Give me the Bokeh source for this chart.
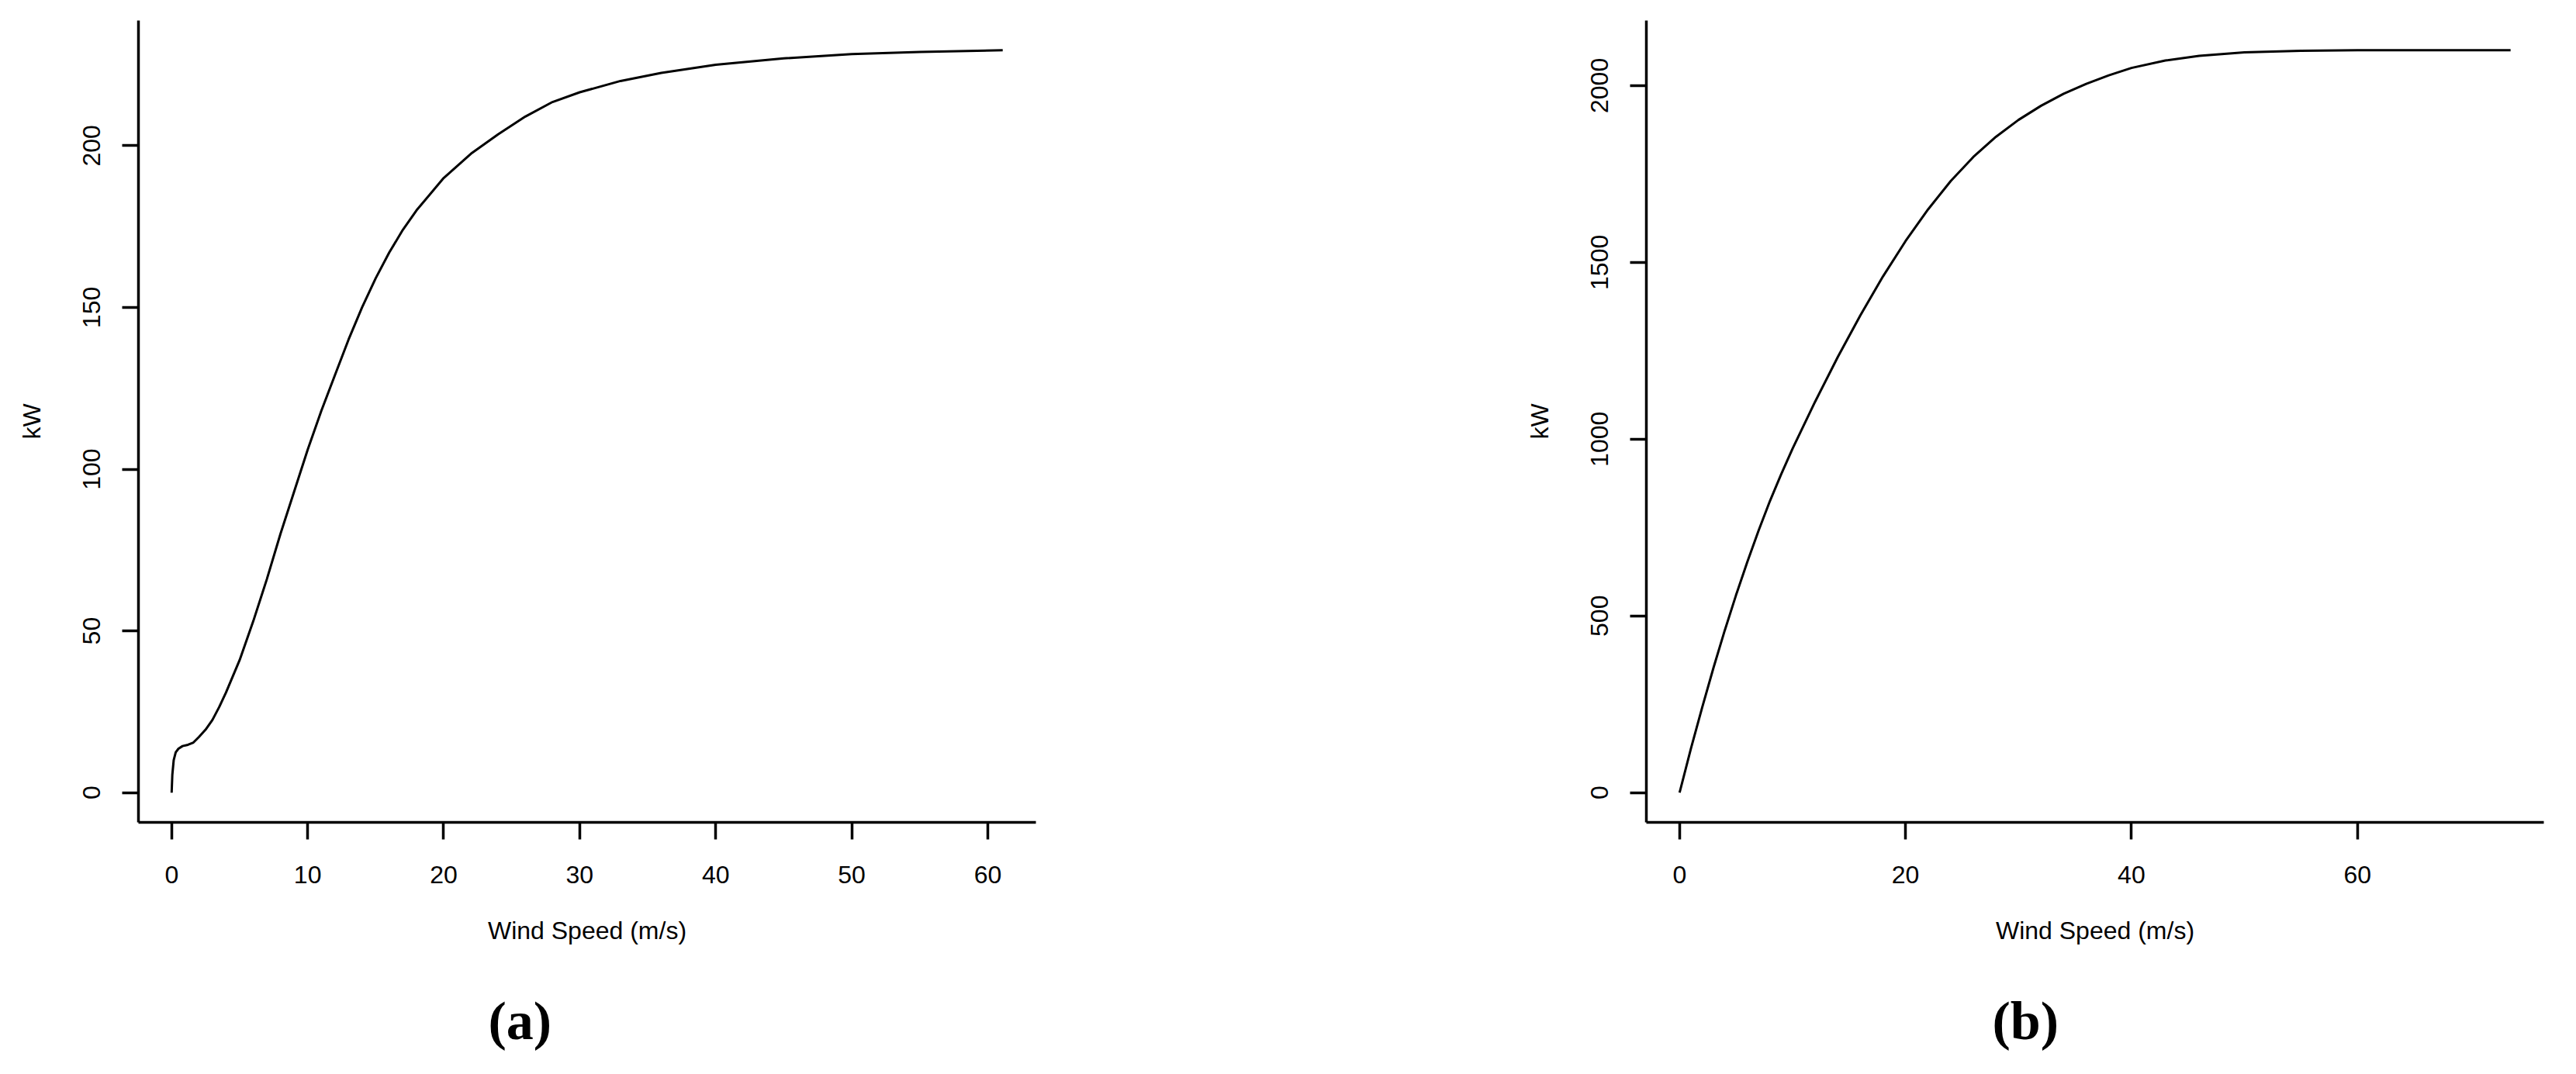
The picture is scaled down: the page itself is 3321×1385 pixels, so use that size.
from bokeh.plotting import figure
from bokeh.layouts import row
from bokeh.models import Range1d, FixedTicker, Title
from bokeh.embed import file_html
from bokeh.resources import INLINE

# ---- data: panel (a) ----
ws_a = [0, 0.05, 0.15, 0.3, 0.5, 0.8, 1.2, 1.6, 2.0, 2.5, 3, 3.5, 4, 5, 6, 7, 8, 9, 10,
        11, 12, 13, 14, 15, 16, 17, 18, 20, 22, 24, 26, 28, 30, 33, 36, 40, 45, 50, 55, 61.1]
kw_a = [0, 5.5, 10, 12.5, 13.6, 14.4, 14.8, 15.5, 17.2, 19.5, 22.5, 26.5, 31, 41, 53, 66, 80, 93, 106,
        118, 129, 140, 150, 159, 167, 174, 180, 190, 197.5, 203.5, 209, 213.5, 216.5, 220, 222.5, 225,
        227, 228.3, 229, 229.5]
xticks_a = [0, 10, 20, 30, 40, 50, 60]
yticks_a = [0, 50, 100, 150, 200]

# ---- data: panel (b) ----
ws_b = [0, 1, 2, 3, 4, 5, 6, 7, 8, 9, 10, 12, 14, 16, 18, 20, 22, 24, 26, 28, 30, 32, 34, 36,
        38, 40, 43, 46, 50, 55, 60, 65, 73.56]
kw_b = [0, 124, 241, 353, 459, 559, 653, 742, 825, 901, 973, 1106, 1232, 1350, 1460, 1560, 1650,
        1730, 1798, 1855, 1903, 1943, 1977, 2005, 2029, 2050, 2071, 2084, 2094, 2098.5, 2100, 2100, 2100]
xticks_b = [0, 20, 40, 60]
yticks_b = [0, 500, 1000, 1500, 2000]

x_label = "Wind Speed (m/s)"
y_label = "kW"
captions = ["(a)", "(b)"]

FONT = "Liberation Sans"


def make_panel(xs, ys, xticks, yticks, xr, yr, left, right, caption, cap_offset):
    p = figure(frame_width=1157, frame_height=1034, output_backend="svg",
               toolbar_location=None, x_range=Range1d(*xr), y_range=Range1d(*yr),
               min_border_left=left, min_border_right=right, min_border_top=26,
               min_border_bottom=325)
    p.outline_line_color = None
    p.grid.visible = False
    p.background_fill_color = "white"
    p.border_fill_color = "white"
    p.line(xs, ys, line_color="black", line_width=3)

    for ax in (p.xaxis[0], p.yaxis[0]):
        ax.axis_line_width = 3.5
        ax.axis_line_color = "black"
        ax.major_tick_line_width = 3.5
        ax.major_tick_line_color = "black"
        ax.major_tick_in = 0
        ax.minor_tick_line_color = None
        ax.major_label_text_font = FONT
        ax.major_label_text_font_size = "32px"
        ax.major_label_text_color = "black"
        ax.axis_label_text_font = FONT
        ax.axis_label_text_font_size = "32px"
        ax.axis_label_text_font_style = "normal"
        ax.axis_label_text_color = "black"

    p.xaxis.ticker = FixedTicker(ticks=xticks)
    p.yaxis.ticker = FixedTicker(ticks=yticks)
    p.xaxis.major_tick_out = 22
    p.yaxis.major_tick_out = 21
    p.xaxis.major_label_standoff = 34
    p.yaxis.major_label_standoff = 28
    p.yaxis.major_label_orientation = "vertical"
    p.xaxis.axis_label = x_label
    p.yaxis.axis_label = y_label
    p.xaxis.axis_label_standoff = 40
    p.yaxis.axis_label_standoff = 46

    t = Title(text=caption, align="left", text_font="Liberation Serif",
              text_font_size="70px", text_font_style="bold", text_color="black",
              offset=cap_offset, standoff=110)
    p.add_layout(t, "below")
    return p


pa = make_panel(ws_a, kw_a, xticks_a, yticks_a, (-2.44, 63.54), (-9.18, 238.68), 178, 565,
                captions[0], 451)
pb = make_panel(ws_b, kw_b, xticks_b, yticks_b, (-2.94, 76.5), (-84, 2184), 222, 42,
                captions[1], 446)

layout = row(pa, pb)
open("out.html", "w").write(file_html(layout, INLINE))
